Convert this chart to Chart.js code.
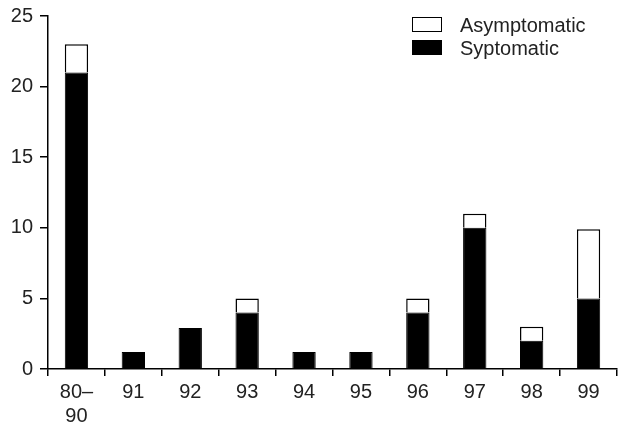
<!DOCTYPE html>
<html>
<head>
<meta charset="utf-8">
<script src="https://cdn.jsdelivr.net/npm/chart.js@4.4.1/dist/chart.umd.min.js"></script>
<style>
  html, body { margin: 0; padding: 0; background: #fff; }
  #wrap { width: 623px; height: 427px; position: relative; }
</style>
</head>
<body>
<div id="wrap"><canvas id="chart"></canvas></div>
<script>
// Data
const periods = [['80\u2013', '90'], '91', '92', '93', '94', '95', '96', '97', '98', '99'];
const symptomatic = [21, 1.2, 2.9, 4, 1.2, 1.2, 4, 10, 2, 5];
const asymptomatic = [2, 0, 0, 1, 0, 0, 1, 1, 1, 4.9];
const yTicks = [0, 5, 10, 15, 20, 25];

const textColor = '#222';
const fontFamily = '"Liberation Sans", Arial, sans-serif';

// Simple boxed legend in the top right corner
const boxLegend = {
    id: 'boxLegend',
    afterDraw(chart) {
        const ctx = chart.ctx;
        const items = [chart.data.datasets[1], chart.data.datasets[0]];
        ctx.save();
        ctx.font = '20px ' + fontFamily;
        ctx.textBaseline = 'middle';
        items.forEach((ds, i) => {
            const x = 412, y = 17 + i * 23;
            ctx.fillStyle = ds.backgroundColor;
            ctx.fillRect(x, y, 30, 15);
            ctx.strokeStyle = '#000';
            ctx.lineWidth = 1;
            ctx.strokeRect(x + 0.5, y + 0.5, 29, 14);
            ctx.fillStyle = textColor;
            ctx.fillText(ds.label, 460, y + 9);
        });
        ctx.restore();
    }
};

new Chart(document.getElementById('chart'), {
    type: 'bar',
    data: {
        labels: periods,
        datasets: [{
            label: 'Syptomatic',
            data: symptomatic,
            backgroundColor: '#000',
            borderColor: '#000',
            borderWidth: 1,
            barPercentage: 0.82,
            categoryPercentage: 0.5
        }, {
            label: 'Asymptomatic',
            data: asymptomatic,
            backgroundColor: '#fff',
            borderColor: '#000',
            borderWidth: 1.5,
            borderSkipped: 'bottom',
            barPercentage: 0.82,
            categoryPercentage: 0.5
        }]
    },
    options: {
        responsive: true,
        maintainAspectRatio: false,
        animation: false,
        layout: { padding: { top: 16, right: 6, left: 0, bottom: 0 } },
        plugins: {
            legend: { display: false },
            tooltip: { enabled: false }
        },
        scales: {
            x: {
                stacked: true,
                afterFit: scale => { scale.height = 58; },
                grid: {
                    offset: true,
                    drawOnChartArea: false,
                    tickLength: 7,
                    color: '#000',
                    lineWidth: 1.5
                },
                border: { color: '#000', width: 1.5 },
                ticks: {
                    color: textColor,
                    padding: 4,
                    maxRotation: 0,
                    autoSkip: false,
                    font: { family: fontFamily, size: 20, lineHeight: 1.2 }
                }
            },
            y: {
                stacked: true,
                min: 0,
                max: 25,
                afterFit: scale => {
                    scale.width = 48;
                    scale.paddingTop = 0;
                    scale.paddingBottom = 0;
                },
                afterBuildTicks: scale => { scale.ticks = yTicks.map(v => ({ value: v })); },
                grid: {
                    drawOnChartArea: false,
                    tickLength: 8,
                    color: '#000',
                    lineWidth: 1.5
                },
                border: { color: '#000', width: 1.5 },
                ticks: {
                    color: textColor,
                    padding: 7,
                    font: { family: fontFamily, size: 20 }
                }
            }
        }
    },
    plugins: [boxLegend]
});
</script>
</body>
</html>
